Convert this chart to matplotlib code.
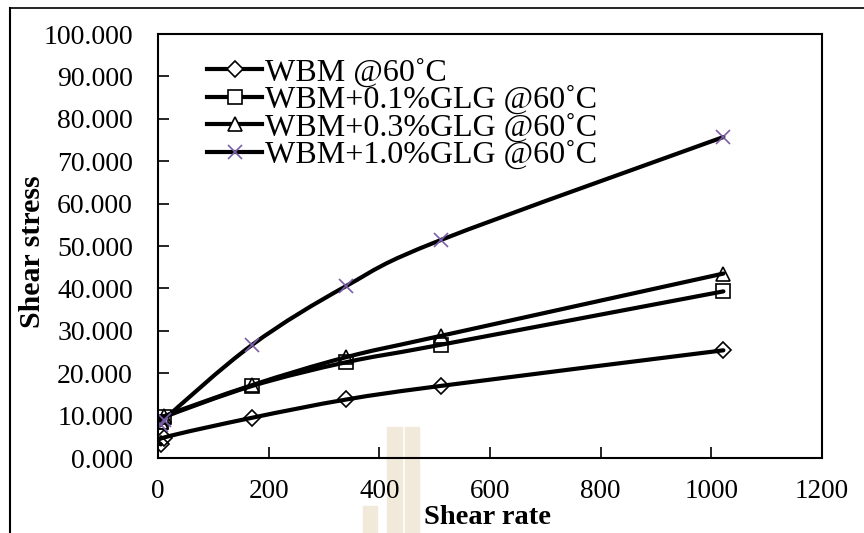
import matplotlib.pyplot as plt
import numpy as np
from matplotlib.path import Path
from matplotlib.patches import PathPatch, Rectangle
from matplotlib.lines import Line2D

# shear rate (1/s) and shear stress readings, WBM at 60 C
shear_rate = [5.1, 10.2, 170.3, 340.6, 510.9, 1021.8]
wbm = [3.2, 4.8, 9.5, 13.8, 17.0, 25.4]
glg_01 = [8.6, 9.6, 17.0, 22.6, 26.7, 39.3]
glg_03 = [8.6, 9.8, 17.2, 23.8, 28.8, 43.5]
glg_10 = [7.8, 9.0, 26.7, 40.6, 51.4, 75.7]

labels = ['WBM @60˚C', 'WBM+0.1%GLG @60˚C',
          'WBM+0.3%GLG @60˚C', 'WBM+1.0%GLG @60˚C']
series = [wbm, glg_01, glg_03, glg_10]
markers = ['D', 's', '^', 'x']
mcolors = ['black', 'black', 'black', '#7b5ea7']
msizes = [8, 10, 10, 10]

plt.rcParams['font.family'] = ['Liberation Serif', 'DejaVu Serif']


def smooth_path(x, y):
    ''' excel-like smoothed line through the points (catmull-rom bezier) '''
    pts = np.column_stack([x, y]).astype(float)
    n = len(pts)
    verts = [pts[0]]
    codes = [Path.MOVETO]
    for i in range(n - 1):
        p0 = pts[max(i - 1, 0)]
        p1 = pts[i]
        p2 = pts[i + 1]
        p3 = pts[min(i + 2, n - 1)]
        c1 = p1 + (p2 - p0) / 6
        c2 = p2 - (p3 - p1) / 6
        verts += [c1, c2, p2]
        codes += [Path.CURVE4] * 3
    return Path(verts, codes)


fig = plt.figure(figsize=(8.64, 5.33), dpi=100)
ax = fig.add_axes([158 / 864, 1 - 458 / 533, 664 / 864, 424 / 533])
ax.patch.set_alpha(0)

handles = []
for vals, lab, mk, mc, ms in zip(series, labels, markers, mcolors, msizes):
    ax.add_patch(PathPatch(smooth_path(shear_rate, vals), fill=False,
                           lw=3, edgecolor='black', capstyle='round',
                           joinstyle='round'))
    ax.plot(shear_rate, vals, ls='none', marker=mk, ms=ms,
            mfc='none', mec=mc, mew=1.2)
    handles.append(Line2D([], [], color='black', lw=3, marker=mk, ms=ms,
                          mfc='white', mec=mc, mew=1.2, label=lab))

ax.set_xlim(0, 1200)
ax.set_ylim(0, 100)
ax.set_xticks(range(0, 1201, 200))
ax.set_yticks(range(0, 101, 10))
ax.yaxis.set_major_formatter(plt.FuncFormatter(lambda v, p: f'{v:.3f}'))
ax.tick_params(axis='y', direction='in', length=8, width=1.2,
               labelsize=20, pad=18)
ax.tick_params(axis='x', direction='in', length=8, width=1.2,
               labelsize=19.5, pad=15)
for s in ax.spines.values():
    s.set_linewidth(1.5)

ax.legend(handles=handles, loc='upper left', bbox_to_anchor=(0.074, 0.943),
          frameon=False, fontsize=23, labelspacing=-0.06, handlelength=1.72,
          handletextpad=0.1, borderaxespad=0, borderpad=0)

fig.text(33 / 864, 1 - 252 / 533, 'Shear stress', rotation=90, fontsize=21.5,
         fontweight='bold', ha='center', va='center')
fig.text(488 / 864, 1 - 517 / 533, 'Shear rate', fontsize=20.5,
         fontweight='bold', ha='center', va='center')

# outer border of the pasted picture
fig.add_artist(Line2D([10 / 864, 10 / 864], [0, 1 - 8 / 533],
                      transform=fig.transFigure, color='black', lw=1.5))
fig.add_artist(Line2D([10 / 864, 1], [1 - 8 / 533, 1 - 8 / 533],
                      transform=fig.transFigure, color='black', lw=1.2))

# faint watermark strips behind the axis
for x0, y0, w, h in [(387, 427, 15, 106), (405, 427, 14, 106),
                     (363, 506, 14, 27)]:
    fig.add_artist(Rectangle((x0 / 864, 1 - (y0 + h) / 533), w / 864, h / 533,
                             transform=fig.transFigure, color='#f1e9da',
                             zorder=-1))

fig.savefig('out.png', dpi=100)
